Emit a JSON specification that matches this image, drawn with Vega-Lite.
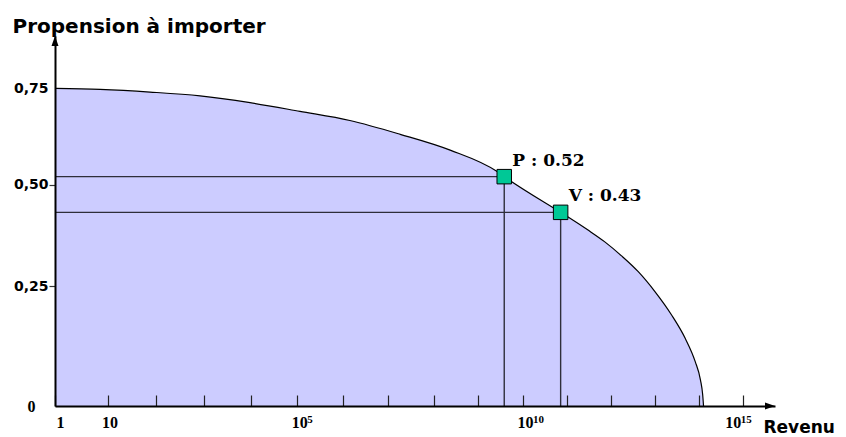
{
  "$schema": "https://vega.github.io/schema/vega-lite/v6.json",
  "width": 720,
  "height": 370,
  "autosize": {"type": "none"},
  "padding": {"left": 55, "top": 36, "right": 71, "bottom": 31},
  "background": "white",
  "config": {"view": {"stroke": null}},
  "datasets": {
    "courbe": [
      {"exposant": 0, "propension": 0.75},
      {"exposant": 0.85, "propension": 0.747},
      {"exposant": 1.867, "propension": 0.74},
      {"exposant": 2.914, "propension": 0.73},
      {"exposant": 3.98, "propension": 0.712},
      {"exposant": 5.06, "propension": 0.689},
      {"exposant": 6.15, "propension": 0.665},
      {"exposant": 7.26, "propension": 0.629},
      {"exposant": 8.37, "propension": 0.588},
      {"exposant": 9.42, "propension": 0.533},
      {"exposant": 9.58, "propension": 0.52},
      {"exposant": 10.85, "propension": 0.43},
      {"exposant": 11.01, "propension": 0.419},
      {"exposant": 11.47, "propension": 0.386},
      {"exposant": 11.85, "propension": 0.357},
      {"exposant": 12.23, "propension": 0.323},
      {"exposant": 12.61, "propension": 0.285},
      {"exposant": 12.99, "propension": 0.238},
      {"exposant": 13.37, "propension": 0.184},
      {"exposant": 13.68, "propension": 0.132},
      {"exposant": 13.91, "propension": 0.082},
      {"exposant": 14.03, "propension": 0.045},
      {"exposant": 14.08, "propension": 0.018},
      {"exposant": 14.1, "propension": 0}
    ],
    "pays": [
      {"pays": "P", "exposant": 9.58, "propension": 0.52, "etiquette": "P : 0.52"},
      {"pays": "V", "exposant": 10.85, "propension": 0.43, "etiquette": "V : 0.43"}
    ],
    "puissances": [
      {"exposant": 5, "puissance": "5"},
      {"exposant": 10, "puissance": "10"},
      {"exposant": 15, "puissance": "15"}
    ]
  },
  "layer": [
    {
      "data": {"name": "courbe"},
      "mark": {"type": "area", "color": "#CCCCFF", "interpolate": "monotone", "opacity": 1},
      "encoding": {
        "x": {
          "field": "exposant",
          "type": "quantitative",
          "scale": {"type": "pow", "exponent": 0.95, "domain": [0, 15.74], "nice": false},
          "axis": {
            "values": [0, 1, 2, 3, 4, 5, 6, 7, 8, 9, 10, 11, 12, 13, 14, 15],
            "labelExpr": "datum.value == 0 ? '1' : (datum.value == 1 || datum.value == 5 || datum.value == 10 || datum.value == 15) ? '10' : ''",
            "grid": false,
            "zindex": 1,
            "domainColor": "black",
            "domainWidth": 2,
            "tickSize": -11,
            "tickColor": "#222222",
            "tickWidth": 1.2,
            "labelFont": "Liberation Serif",
            "labelFontWeight": "bold",
            "labelFontSize": 16,
            "labelColor": "black",
            "labelAlign": "left",
            "labelOffset": {"condition": [{"test": "datum.value == 15", "value": -18}, {"test": "datum.value == 0", "value": 1}], "value": -6},
            "labelPadding": 19,
            "labelFlush": false,
            "labelOverlap": false,
            "title": "Revenu",
            "titleFont": "DejaVu Sans",
            "titleFontWeight": "bold",
            "titleFontSize": 17,
            "titleColor": "black",
            "titleAlign": "left",
            "titleBaseline": "alphabetic",
            "titleX": 708,
            "titleY": 26
          }
        },
        "y": {
          "field": "propension",
          "type": "quantitative",
          "scale": {"type": "pow", "exponent": 0.89, "domain": [0, 0.89], "nice": false},
          "axis": {
            "values": [0, 0.25, 0.5, 0.75],
            "labelExpr": "datum.value == 0 ? '0' : replace(format(datum.value, '.2f'), '.', ',')",
            "grid": false,
            "zindex": 1,
            "domainColor": "black",
            "domainWidth": 2,
            "tickSize": 6,
            "tickColor": "#333333",
            "tickWidth": 1.2,
            "tickOpacity": {"condition": {"test": "datum.value == 0 || datum.value == 0.75", "value": 0}, "value": 1},
            "labelFont": {"condition": {"test": "datum.value == 0", "value": "Liberation Serif"}, "value": "DejaVu Sans"},
            "labelFontSize": {"condition": {"test": "datum.value == 0", "value": 16}, "value": 14},
            "labelPadding": {"condition": {"test": "datum.value == 0", "value": 14}, "value": 1},
            "labelFontWeight": "bold",
            "labelColor": "black",
            "labelFlush": false,
            "labelOverlap": false,
            "title": "Propension à importer",
            "titleFont": "DejaVu Sans",
            "titleFontWeight": "bold",
            "titleFontSize": 20,
            "titleColor": "black",
            "titleAngle": 0,
            "titleAlign": "left",
            "titleBaseline": "alphabetic",
            "titleX": -43,
            "titleY": -4
          }
        }
      }
    },
    {
      "data": {"name": "courbe"},
      "mark": {"type": "line", "color": "black", "strokeWidth": 1.2, "interpolate": "monotone"},
      "encoding": {
        "x": {"field": "exposant", "type": "quantitative"},
        "y": {"field": "propension", "type": "quantitative"}
      }
    },
    {
      "data": {"name": "pays"},
      "mark": {"type": "rule", "color": "#2e2e3a", "strokeWidth": 1.4},
      "encoding": {
        "x": {"field": "exposant", "type": "quantitative"},
        "x2": {"datum": 0},
        "y": {"field": "propension", "type": "quantitative"}
      }
    },
    {
      "data": {"name": "pays"},
      "mark": {"type": "rule", "color": "#2e2e3a", "strokeWidth": 1.4},
      "encoding": {
        "x": {"field": "exposant", "type": "quantitative"},
        "y": {"field": "propension", "type": "quantitative"},
        "y2": {"datum": 0}
      }
    },
    {
      "data": {"name": "pays"},
      "mark": {"type": "point", "shape": "square", "size": 210, "filled": true, "fill": "#00C896", "stroke": "black", "strokeWidth": 1, "opacity": 1},
      "encoding": {
        "x": {"field": "exposant", "type": "quantitative"},
        "y": {"field": "propension", "type": "quantitative"}
      }
    },
    {
      "data": {"name": "pays"},
      "mark": {"type": "text", "align": "left", "baseline": "alphabetic", "dx": 8, "dy": -11, "font": "DejaVu Serif", "fontWeight": "bold", "fontSize": 17, "color": "black"},
      "encoding": {
        "x": {"field": "exposant", "type": "quantitative"},
        "y": {"field": "propension", "type": "quantitative"},
        "text": {"field": "etiquette"}
      }
    },
    {
      "data": {"name": "puissances"},
      "transform": [{"filter": "datum.exposant < 15"}],
      "mark": {"type": "text", "align": "left", "baseline": "alphabetic", "dx": 10, "dy": 17, "font": "Liberation Serif", "fontWeight": "bold", "fontSize": 11, "color": "black", "clip": false},
      "encoding": {
        "x": {"field": "exposant", "type": "quantitative"},
        "y": {"datum": 0, "type": "quantitative"},
        "text": {"field": "puissance"}
      }
    },
    {
      "data": {"name": "puissances"},
      "transform": [{"filter": "datum.exposant == 15"}],
      "mark": {"type": "text", "align": "left", "baseline": "alphabetic", "dx": -2, "dy": 17, "font": "Liberation Serif", "fontWeight": "bold", "fontSize": 11, "color": "black", "clip": false},
      "encoding": {
        "x": {"field": "exposant", "type": "quantitative"},
        "y": {"datum": 0, "type": "quantitative"},
        "text": {"field": "puissance"}
      }
    },
    {
      "data": {"values": [{"exposant": 0, "propension": 0.89}]},
      "mark": {"type": "point", "shape": "M0,0L0.7,2L-0.7,2Z", "size": 100, "filled": true, "color": "black", "opacity": 1, "clip": false},
      "encoding": {
        "x": {"field": "exposant", "type": "quantitative"},
        "y": {"field": "propension", "type": "quantitative"}
      }
    },
    {
      "data": {"values": [{"exposant": 15.74, "propension": 0}]},
      "mark": {"type": "point", "shape": "M0,0L-2,-0.7L-2,0.7Z", "size": 100, "filled": true, "color": "black", "opacity": 1, "clip": false},
      "encoding": {
        "x": {"field": "exposant", "type": "quantitative"},
        "y": {"field": "propension", "type": "quantitative"}
      }
    }
  ]
}
